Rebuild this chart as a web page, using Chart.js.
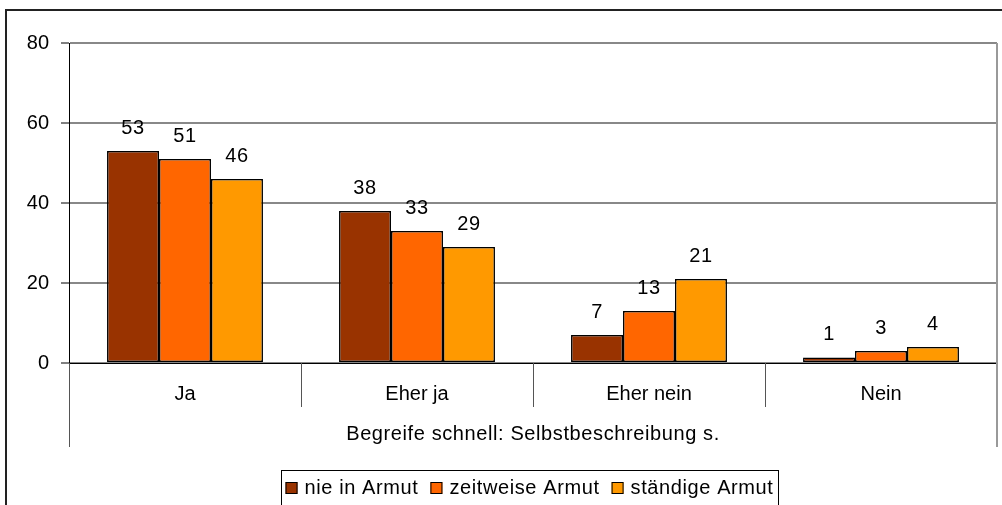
<!DOCTYPE html>
<html>
<head>
<meta charset="utf-8">
<script src="https://cdn.jsdelivr.net/npm/chart.js@4"></script>
<style>
html, body { margin: 0; padding: 0; background: #fff; }
#wrap { width: 1002px; height: 505px; position: relative; }
</style>
</head>
<body>
<div id="wrap"><canvas id="armutChart"></canvas></div>
<script>
// data
const categories = ['Ja', 'Eher ja', 'Eher nein', 'Nein'];
const seriesNames = ['nie in Armut', 'zeitweise Armut', 'ständige Armut'];
const nieInArmut = [53, 38, 7, 1.4];
const zeitweiseArmut = [51, 33, 13, 3];
const staendigeArmut = [46, 29, 21, 4];
const yTicks = [0, 20, 40, 60, 80];
const groupTitle = 'Begreife schnell: Selbstbeschreibung s.';

const colors = ['#993300', '#FF6600', '#FF9900'];
const FONT = '"Liberation Sans", Arial, sans-serif';

// frame, separators, group label, value labels, legend
const decoPlugin = {
    id: 'deco',
    beforeDraw(chart) {
        const c = chart.ctx;
        c.save();
        c.fillStyle = '#fff';
        c.fillRect(0, 0, chart.width, chart.height);
        c.strokeStyle = '#222';
        c.lineWidth = 2;
        c.beginPath();
        c.moveTo(6, chart.height + 5);
        c.lineTo(6, 10);
        c.lineTo(chart.width + 5, 10);
        c.stroke();
        c.restore();
    },
    afterDraw(chart) {
        const c = chart.ctx;
        const x = chart.scales.x;
        const area = chart.chartArea;
        c.save();

        // right border + long end lines
        c.strokeStyle = '#999';
        c.lineWidth = 2;
        c.beginPath();
        c.moveTo(area.right, area.top);
        c.lineTo(area.right, 447);
        c.stroke();

        c.strokeStyle = '#555';
        c.lineWidth = 1;
        c.beginPath();
        c.moveTo(area.left + 0.5, area.bottom);
        c.lineTo(area.left + 0.5, 447);
        c.stroke();

        // category separators
        for (let i = 0; i < categories.length - 1; i++) {
            const sx = Math.round((x.getPixelForValue(i) + x.getPixelForValue(i + 1)) / 2) + 0.5;
            c.beginPath();
            c.moveTo(sx, area.bottom);
            c.lineTo(sx, 407);
            c.stroke();
        }

        // group label
        c.fillStyle = '#000';
        c.font = '20px ' + FONT;
        c.letterSpacing = '0.6px';
        c.textAlign = 'center';
        c.textBaseline = 'middle';
        c.fillText(groupTitle, (area.left + area.right) / 2, 434);

        // value labels
        c.textBaseline = 'bottom';
        chart.data.datasets.forEach((ds, di) => {
            chart.getDatasetMeta(di).data.forEach((bar, i) => {
                c.fillText(String(Math.round(ds.data[i])), bar.x, bar.y - 13);
            });
        });

        // legend
        c.textAlign = 'left';
        c.textBaseline = 'middle';
        const box = 12, gap = 7, itemGap = 12;
        let widths = seriesNames.map(n => c.measureText(n).width);
        let total = widths.reduce((a, b) => a + b, 0) + seriesNames.length * (box + gap) + (seriesNames.length - 1) * itemGap;
        const lx0 = 281, lx1 = 778;
        let lx = (lx0 + lx1) / 2 - total / 2;
        const ly = 488;
        c.strokeStyle = '#000';
        c.lineWidth = 1;
        c.strokeRect(lx0 + 0.5, 470.5, lx1 - lx0, 40);
        seriesNames.forEach((n, i) => {
            c.fillStyle = colors[i];
            c.fillRect(lx, ly - box / 2, box, box);
            c.strokeRect(lx + 0.5, ly - box / 2 + 0.5, box - 1, box - 1);
            c.fillStyle = '#000';
            c.fillText(n, lx + box + gap, ly);
            lx += box + gap + widths[i] + itemGap;
        });
        c.restore();
    }
};

const datasets = [nieInArmut, zeitweiseArmut, staendigeArmut].map((vals, i) => ({
    label: seriesNames[i],
    data: vals,
    backgroundColor: colors[i],
    borderColor: '#000',
    borderWidth: 1.5,
    borderSkipped: false,
    barPercentage: 1,
    categoryPercentage: 0.672
}));

new Chart(document.getElementById('armutChart'), {
    type: 'bar',
    data: { labels: categories, datasets: datasets },
    plugins: [decoPlugin],
    options: {
        responsive: true,
        maintainAspectRatio: false,
        animation: false,
        devicePixelRatio: 1,
        layout: { padding: { left: 0, top: 43, right: 5, bottom: 0 } },
        plugins: {
            legend: { display: false },
            tooltip: { enabled: false }
        },
        scales: {
            x: {
                grid: { display: false },
                border: { color: '#000', width: 1 },
                ticks: {
                    color: '#000',
                    padding: 11,
                    font: { family: FONT, size: 20 }
                },
                afterFit(s) { s.height = 142; }
            },
            y: {
                min: 0,
                max: 80,
                afterBuildTicks(s) { s.ticks = yTicks.map(v => ({ value: v })); },
                grid: { color: '#888', lineWidth: 2, tickLength: 8, tickColor: '#000', tickWidth: 1 },
                border: { color: '#000', width: 1 },
                ticks: {
                    color: '#000',
                    padding: 12,
                    font: { family: FONT, size: 20 }
                },
                afterFit(s) { s.width = 69; }
            }
        }
    }
});
</script>
</body>
</html>
